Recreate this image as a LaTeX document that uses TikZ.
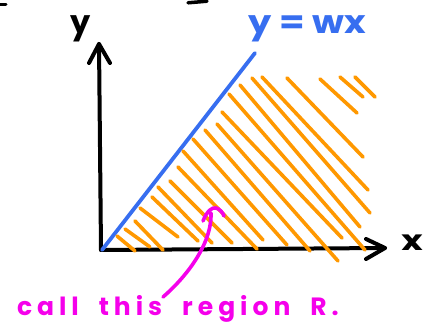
\documentclass[tikz,border=0pt]{standalone}
\usepackage{fontspec}
\setmainfont{Poppins}
\definecolor{hatch}{RGB}{255,152,0}
\definecolor{lineblue}{RGB}{55,110,240}
\definecolor{mag}{RGB}{245,0,235}
\newcommand\capfontx{\fontsize{25}{25}\selectfont\bfseries\addfontfeatures{LetterSpace=20}\spaceskip=20pt\relax}
\begin{document}
\begin{tikzpicture}[x=1pt,y=-1pt,line cap=round,line join=round,
  axisline/.style={line width=4pt,black},
  hatchline/.style={line width=3.6pt,hatch},
  blueline/.style={line width=3.8pt,lineblue},
  magline/.style={line width=3.6pt,mag},
  handtext/.style={inner sep=0pt,outer sep=0pt}]
\useasboundingbox (0,0) rectangle (437,334);
% cut-off strokes at the top edge
\draw[line width=3pt] (0,4.5) -- (6,4.5);
\draw[line width=3.5pt] (188,2.8) -- (207,1.2);
% axes
\coordinate (O) at (101,250);
\coordinate (ytip) at (99,44);
\coordinate (xtip) at (385,248);
\draw[axisline] (O) -- (ytip);
\draw[axisline] (89,63) -- (ytip) -- (110,63);
\draw[axisline] (O) -- (xtip);
\draw[axisline] (366,239) -- (xtip) -- (366,259);
% boundary line y = wx
\coordinate (b0) at (102,250);
\coordinate (b1) at (255,53);
\draw[blueline] (b0) -- (b1);
% hatching of region R
\foreach \a/\b/\c/\d in {
  117/236/135/251, 125/229/150/247, 135/221/163/250, 140/208/178/237,
  152/197/198/241, 158/187/212/243, 170/181/232/243, 178/167/257/249,
  183/151/263/240, 193/139/287/245, 205/130/310/251, 217/124/338/261,
  222/112/342/238, 229/94/365/250, 240/85/360/227, 252/78/370/213,
  262/77/368/190, 287/78/363/157, 320/79/357/113, 340/77/363/97,
  355/77/375/97}
  \draw[hatchline] (\a,\b) -- (\c,\d);
% labels
\node[handtext,font=\fontsize{32}{32}\selectfont\bfseries] (ylab) at (81,29) {y};
\node[handtext,font=\fontsize{28}{28}\selectfont\bfseries,xscale=1.3] (xlab) at (412,243) {x};
\node[handtext,font=\fontsize{32}{32}\selectfont\bfseries,text=lineblue,xscale=1.15,anchor=base] (eq) at (307,34) {y = wx};
\node[handtext,font=\capfontx,text=mag,anchor=base west] (cap) at (17,316) {call this region R.};
% arrow from the caption into the region
\coordinate (s) at (163,297);
\coordinate (t) at (211,213);
\draw[magline] (s) .. controls (185,278) and (212,245) .. (t);
\draw[magline] (203,221) .. controls (207,211) and (212,207) .. (216,208) .. controls (220,209) and (223,213) .. (224,216);
\end{tikzpicture}
\end{document}
